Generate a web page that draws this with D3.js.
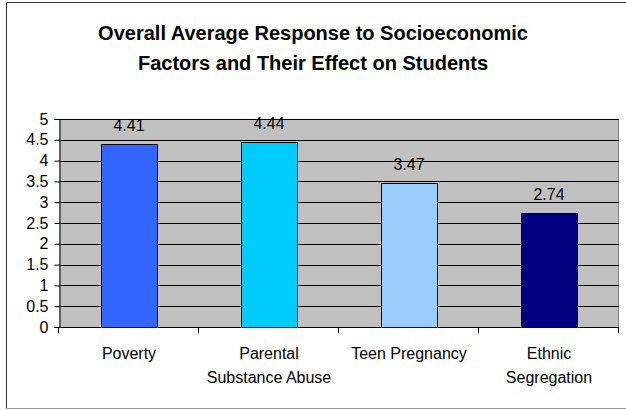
<!DOCTYPE html>
<html lang="en">
<head>
<meta charset="UTF-8">
<title>Overall Average Response to Socioeconomic Factors</title>
<style>
    html, body { margin: 0; padding: 0; background: #fff; overflow: hidden; }
    svg { display: block; font-family: Arial, "Liberation Sans", sans-serif; }
</style>
</head>
<body>
<div id="chart"></div>
<script src="https://d3js.org/d3.v7.min.js"></script>
<script>
    // data
    const categories = ['Poverty', 'Parental Substance Abuse', 'Teen Pregnancy', 'Ethnic Segregation'];
    const labelLines = [['Poverty'], ['Parental', 'Substance Abuse'], ['Teen Pregnancy'], ['Ethnic', 'Segregation']];
    const values = [4.41, 4.44, 3.47, 2.74];
    const barColors = ['#3366FF', '#00CCFF', '#99CCFF', '#000080'];
    const yTicks = [0, 0.5, 1, 1.5, 2, 2.5, 3, 3.5, 4, 4.5, 5];
    const titleLines = ['Overall Average Response to Socioeconomic', 'Factors and Their Effect on Students'];

    const W = 626, H = 410;
    const plot = {left: 59, right: 619, top: 119, bottom: 327};

    const svg = d3.select('#chart').append('svg')
        .attr('width', W).attr('height', H);

    // outer chart frame
    svg.append('path')
        .attr('d', `M6.5,408.5 V2.5 H${W + 2}`)
        .attr('fill', 'none')
        .attr('stroke', '#333');
    svg.append('line')
        .attr('x1', 6).attr('x2', W)
        .attr('y1', 408.5).attr('y2', 408.5)
        .attr('stroke', '#999');

    // title
    svg.append('text')
        .attr('x', 313).attr('y', 40)
        .attr('text-anchor', 'middle')
        .attr('font-size', 20).attr('font-weight', 'bold')
        .selectAll('tspan')
        .data(titleLines)
        .join('tspan')
        .attr('x', 313)
        .attr('dy', (d, i) => i ? 30 : 0)
        .text(d => d);

    const x = d3.scaleBand()
        .domain(categories)
        .range([plot.left, plot.right])
        .paddingInner(0.6)
        .paddingOuter(0.3);

    const y = d3.scaleLinear()
        .domain([0, 5])
        .range([plot.bottom, plot.top]);

    // plot area
    svg.append('rect')
        .attr('x', plot.left).attr('y', plot.top)
        .attr('width', plot.right - plot.left)
        .attr('height', plot.bottom - plot.top)
        .attr('fill', '#C0C0C0');

    svg.append('line')
        .attr('x1', plot.right - 0.5).attr('x2', plot.right - 0.5)
        .attr('y1', plot.top).attr('y2', plot.bottom)
        .attr('stroke', '#808080');

    // gridlines
    svg.append('g')
        .selectAll('line')
        .data(yTicks.filter(d => d > 0))
        .join('line')
        .attr('x1', plot.left).attr('x2', plot.right)
        .attr('y1', d => Math.round(y(d)) + 0.5)
        .attr('y2', d => Math.round(y(d)) + 0.5)
        .attr('stroke', '#000')
        .attr('stroke-width', 1);

    // bars
    svg.append('g')
        .selectAll('rect')
        .data(values)
        .join('rect')
        .attr('x', (d, i) => Math.round(x(categories[i])) + 0.5)
        .attr('y', d => Math.round(y(d)) + 0.5)
        .attr('width', Math.round(x.bandwidth()))
        .attr('height', d => Math.round(y(0)) - Math.round(y(d)))
        .attr('fill', (d, i) => barColors[i])
        .attr('stroke', '#000')
        .attr('stroke-width', 1);

    // value labels
    svg.append('g')
        .selectAll('text')
        .data(values)
        .join('text')
        .attr('x', (d, i) => x(categories[i]) + x.bandwidth() / 2)
        .attr('y', d => y(d) - 13)
        .attr('text-anchor', 'middle')
        .attr('font-size', 16)
        .text(d => d.toFixed(2));

    // y axis
    const yAxis = svg.append('g')
        .attr('transform', `translate(${plot.left + 0.5},0)`)
        .call(d3.axisLeft(y).tickValues(yTicks).tickSize(5).tickPadding(6).tickFormat(d3.format('')));
    yAxis.select('.domain').attr('stroke', '#000');
    yAxis.selectAll('.tick line').attr('stroke', '#000');
    yAxis.selectAll('text').attr('font-size', 16).attr('fill', '#000')
        .attr('font-family', 'Arial, "Liberation Sans", sans-serif');

    // x axis baseline and category separators
    const bounds = d3.range(categories.length + 1).map(i => plot.left + i * (plot.right - plot.left) / categories.length);
    svg.append('line')
        .attr('x1', plot.left).attr('x2', plot.right)
        .attr('y1', plot.bottom + 0.5).attr('y2', plot.bottom + 0.5)
        .attr('stroke', '#000');
    svg.append('g')
        .selectAll('line')
        .data(bounds)
        .join('line')
        .attr('x1', d => Math.round(d) - 0.5).attr('x2', d => Math.round(d) - 0.5)
        .attr('y1', plot.bottom).attr('y2', plot.bottom + 6)
        .attr('stroke', '#000');

    // category labels
    svg.append('g')
        .selectAll('text')
        .data(categories)
        .join('text')
        .attr('x', d => x(d) + x.bandwidth() / 2)
        .attr('y', 359)
        .attr('text-anchor', 'middle')
        .attr('font-size', 16)
        .selectAll('tspan')
        .data((d, i) => labelLines[i].map(t => ({t, cx: x(d) + x.bandwidth() / 2})))
        .join('tspan')
        .attr('x', d => d.cx)
        .attr('dy', (d, i) => i ? 24 : 0)
        .text(d => d.t);
</script>
</body>
</html>
